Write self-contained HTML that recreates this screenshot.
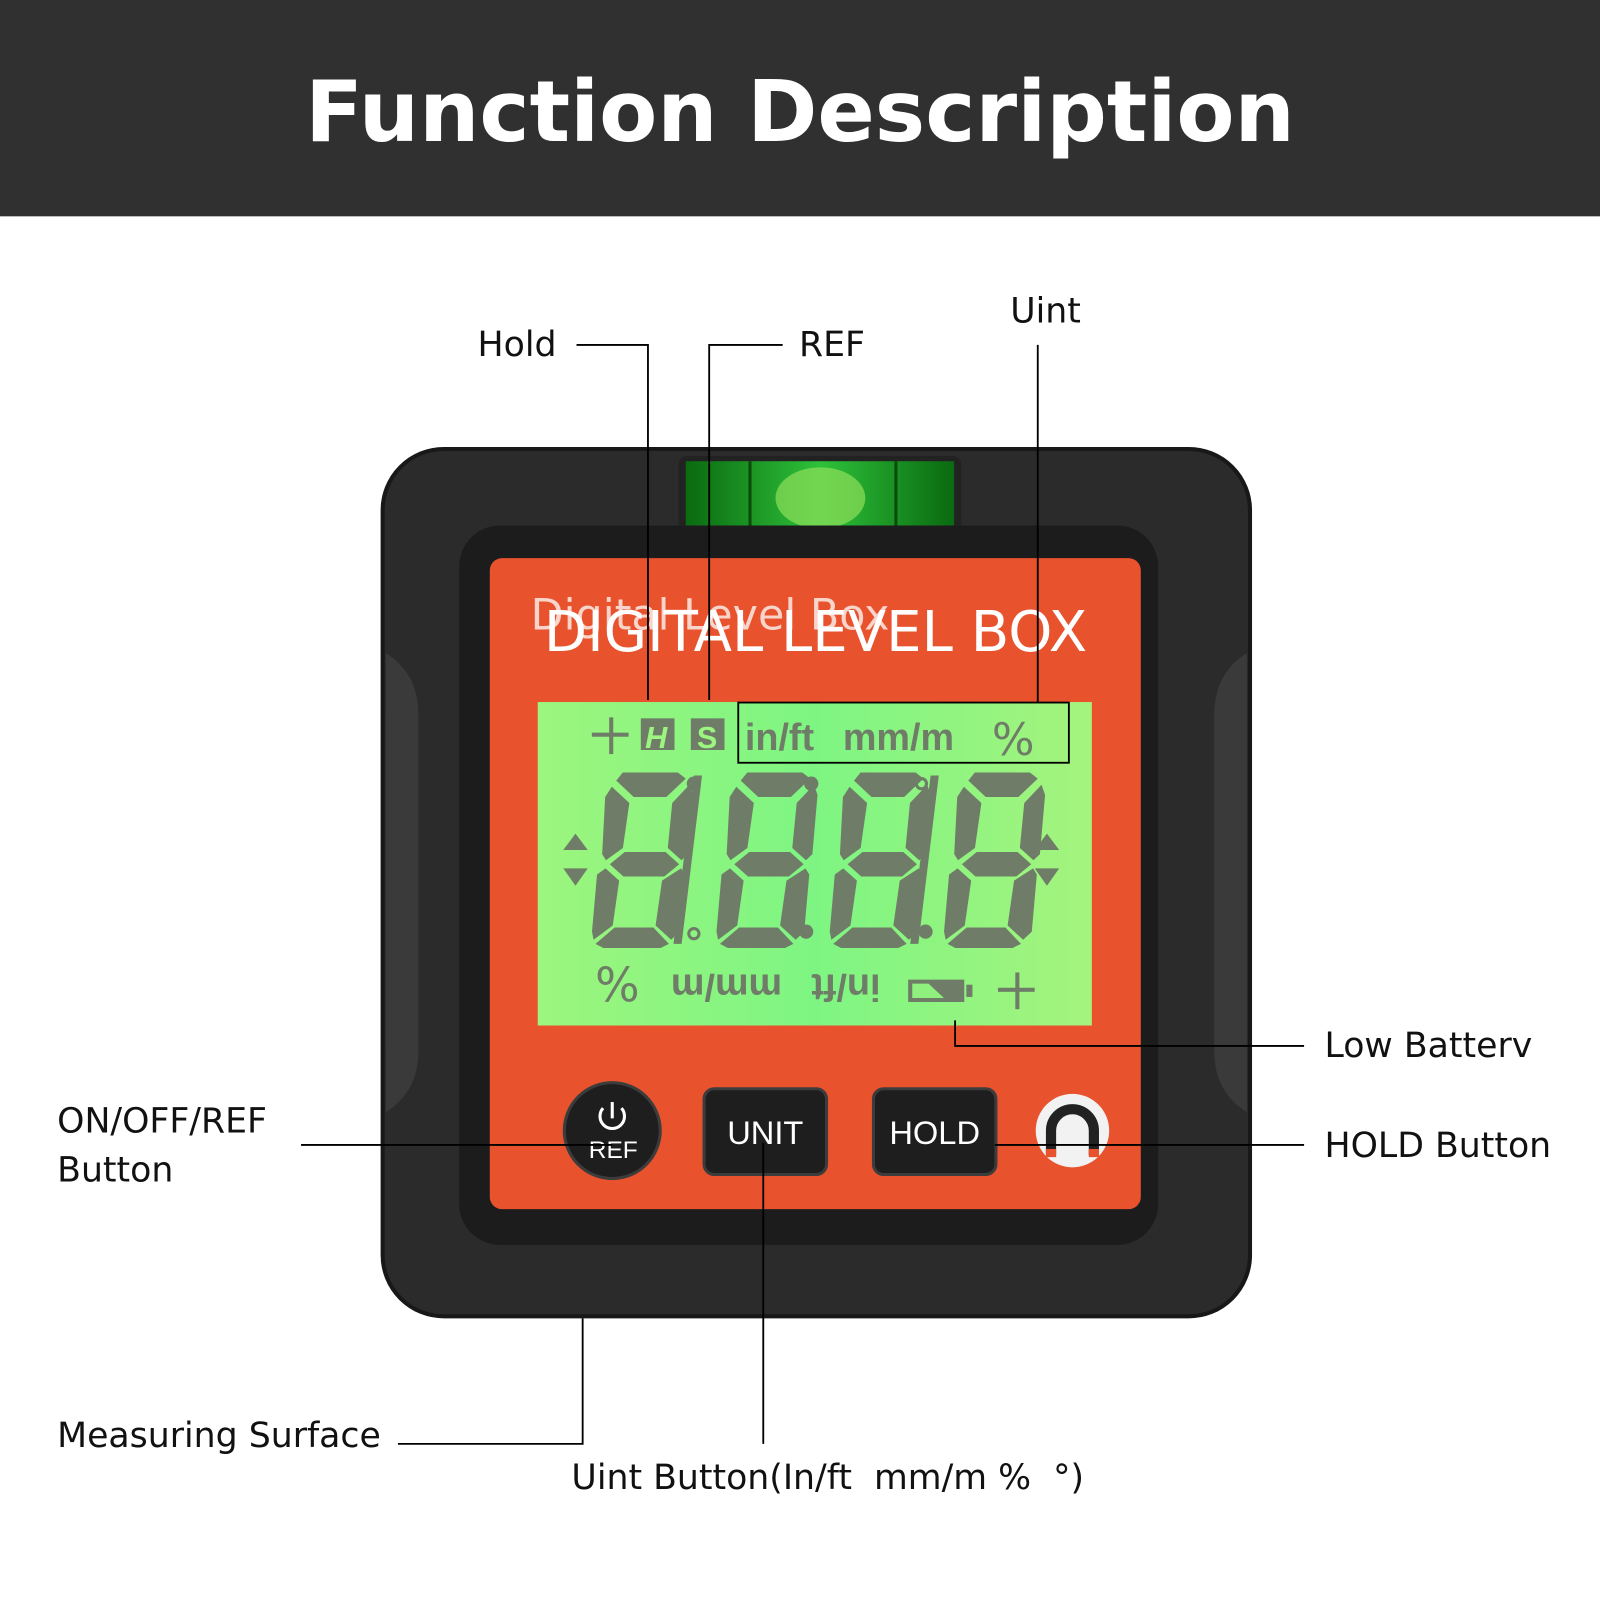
<!DOCTYPE html>
<html><head><meta charset="utf-8"><style>
body{margin:0;width:1600px;height:1600px;overflow:hidden;background:#fff;font-family:"Liberation Sans","DejaVu Sans",sans-serif}
#c{position:absolute;left:0;top:0;width:1568px;height:1568px;transform:scale(1.020408);transform-origin:0 0}
.t{position:absolute;font-size:34px;color:#111;font-family:"DejaVu Sans","Liberation Sans",sans-serif;white-space:nowrap}
</style></head><body><div id="c">
<div style="position:absolute;left:0;top:0;width:1568px;height:212px;background:#303030"></div>
<div style="position:absolute;left:0;top:61px;width:1568px;text-align:center;color:#fff;font-size:83px;font-weight:bold;font-family:'DejaVu Sans','Liberation Sans',sans-serif">Function Description</div>
<svg width="1568" height="1568" style="position:absolute;left:0;top:0">
<defs>
<linearGradient id="vg" x1="0" x2="1"><stop offset="0" stop-color="#0a6a10"/><stop offset="0.5" stop-color="#2ec13a"/><stop offset="1" stop-color="#0a6a10"/></linearGradient>
<linearGradient id="lcd" x1="0" x2="1"><stop offset="0" stop-color="#9cf57e"/><stop offset="0.5" stop-color="#7ef582"/><stop offset="1" stop-color="#a4f47e"/></linearGradient>
<g id="d" fill="#6f7d68">
<polygon points="16,0 70,0 78,6 60,24 28,24 10,8"/>
<polygon points="6,14 24,30 20,74 4,86 0,80 0,24"/>
<polygon points="82,12 86,22 84,80 78,86 64,74 66,30"/>
<polygon points="8,90 22,78 62,78 76,90 62,102 22,102"/>
<polygon points="4,94 18,106 14,150 -4,164 -6,156 -4,100"/>
<polygon points="78,94 82,100 80,156 72,164 56,150 60,106"/>
<polygon points="-2,168 16,152 54,152 70,168 62,172 6,172"/>
</g>
</defs>
<rect x="375" y="440" width="850" height="850" rx="60" fill="#2b2b2b" stroke="#181818" stroke-width="4"/>
<path d="M378 640 Q410 660 410 700 V1030 Q410 1070 378 1090 Z" fill="#3a3a3a"/>
<path d="M1222 640 Q1190 660 1190 700 V1030 Q1190 1070 1222 1090 Z" fill="#3a3a3a"/>
<rect x="665" y="447" width="277" height="82" rx="8" fill="#222"/>
<rect x="672" y="452" width="263" height="72" fill="url(#vg)"/>
<line x1="735" y1="452" x2="735" y2="524" stroke="#0a4a0a" stroke-width="3"/>
<line x1="878" y1="452" x2="878" y2="524" stroke="#0a4a0a" stroke-width="3"/>
<ellipse cx="804" cy="488" rx="44" ry="30" fill="#8ee05a" opacity="0.7"/>
<rect x="450" y="515" width="685" height="705" rx="40" fill="#1c1c1c"/>
<rect x="480" y="547" width="638" height="638" rx="12" fill="#e8532e"/>
<rect x="527" y="688" width="543" height="317" fill="url(#lcd)"/>
<g transform="skewX(-3) translate(44 0)">
<use href="#d" x="590" y="757"/><use href="#d" x="712" y="757"/><use href="#d" x="823" y="757"/><use href="#d" x="935" y="757"/>
</g>
<g fill="#6f7d68">
<polygon points="680,760 688,760 668,925 660,925"/>
<polygon points="912,760 920,760 900,925 892,925"/>
<circle cx="680" cy="768" r="7"/><circle cx="795" cy="768" r="7"/>
<circle cx="790" cy="913" r="7"/><circle cx="907" cy="913" r="7"/>
<circle cx="680" cy="915" r="5" fill="none" stroke="#6f7d68" stroke-width="3"/>
<circle cx="903" cy="768" r="5" fill="none" stroke="#6f7d68" stroke-width="3"/>
<polygon points="564,817 576,833 552,833"/><polygon points="552,851 576,851 564,868"/>
<polygon points="1026,817 1038,833 1014,833"/><polygon points="1014,851 1038,851 1026,868"/>
<rect x="580" y="718" width="36" height="4"/><rect x="597" y="703" width="4" height="36"/>
<rect x="978" y="968" width="36" height="4"/><rect x="995" y="953" width="4" height="36"/>
<rect x="628" y="704" width="33" height="31"/><rect x="677" y="704" width="33" height="31"/>
<polygon points="890,960 945,960 945,982 890,982"/>
<rect x="947" y="965" width="6" height="12"/>
</g>
<polygon points="894,964 910,964 925,978 894,978" fill="#8ff07e"/>
<text x="643" y="733" font-family="Liberation Sans" font-weight="bold" font-style="italic" font-size="30" fill="#9cf57e" text-anchor="middle">H</text>
<text x="693" y="733" font-family="Liberation Sans" font-weight="bold" font-size="30" fill="#9cf57e" text-anchor="middle">S</text>
<text x="730" y="735" font-family="Liberation Sans" font-weight="bold" font-size="37" fill="#6f7d68">in/ft</text>
<text x="826" y="735" font-family="Liberation Sans" font-weight="bold" font-size="37" fill="#6f7d68">mm/m</text>
<text x="972" y="740" font-family="DejaVu Sans" font-size="44" fill="#6f7d68">%</text>
<text transform="rotate(180 712 968)" x="712" y="981" font-family="Liberation Sans" font-weight="bold" font-size="37" fill="#6f7d68" text-anchor="middle">mm/m</text>
<text transform="rotate(180 829 968)" x="829" y="981" font-family="Liberation Sans" font-weight="bold" font-size="37" fill="#6f7d68" text-anchor="middle">in/ft</text>
<text transform="rotate(180 605 963)" x="605" y="979" font-family="DejaVu Sans" font-size="46" fill="#6f7d68" text-anchor="middle">%</text>
<text x="533" y="638" font-family="DejaVu Sans" font-size="55" fill="#fff">DIGITAL LEVEL BOX</text>
<text x="520" y="617" font-family="DejaVu Sans" font-size="42" fill="#fff" opacity="0.75">Digital Level Box</text>
<circle cx="600" cy="1108" r="47" fill="#1e1e1e" stroke="#3c3c3c" stroke-width="3"/>
<path d="M591 1086 A12 12 0 1 0 609 1086" fill="none" stroke="#fff" stroke-width="3"/>
<line x1="600" y1="1080" x2="600" y2="1096" stroke="#fff" stroke-width="3"/>
<text x="601" y="1135" font-family="Liberation Sans" font-size="24" fill="#fff" text-anchor="middle">REF</text>
<rect x="690" y="1067" width="120" height="84" rx="10" fill="#1e1e1e" stroke="#3c3c3c" stroke-width="3"/>
<text x="750" y="1121" font-family="Liberation Sans" font-size="32" fill="#fff" text-anchor="middle">UNIT</text>
<rect x="856" y="1067" width="120" height="84" rx="10" fill="#1e1e1e" stroke="#3c3c3c" stroke-width="3"/>
<text x="916" y="1121" font-family="Liberation Sans" font-size="32" fill="#fff" text-anchor="middle">HOLD</text>
<circle cx="1051" cy="1108" r="36" fill="#f2f2f2"/>
<path d="M1030 1132 V1108 A21 21 0 0 1 1072 1108 V1132" fill="none" stroke="#222" stroke-width="10"/>
<rect x="1025" y="1126" width="10" height="8" fill="#e8532e"/><rect x="1067" y="1126" width="10" height="8" fill="#e8532e"/>
<g stroke="#000" stroke-width="1.8" fill="none">
<polyline points="565,338 635,338 635,686"/>
<polyline points="767,338 695,338 695,686"/>
<line x1="1017" y1="338" x2="1017" y2="688"/>
<rect x="723.5" y="688.5" width="324" height="59"/>
<polyline points="936,1000 936,1025 1278,1025"/>
<line x1="975" y1="1122" x2="1278" y2="1122"/>
<line x1="295" y1="1122" x2="600" y2="1122"/>
<line x1="748" y1="1120" x2="748" y2="1415"/>
<polyline points="390,1415 571,1415 571,1292"/>
</g>
</svg>
<div class="t" style="left:468px;top:318px">Hold</div>
<div class="t" style="left:783px;top:318px">REF</div>
<div class="t" style="left:990px;top:285px">Uint</div>
<div class="t" style="left:1298px;top:1005px">Low Batterv</div>
<div class="t" style="left:1298px;top:1103px">HOLD Button</div>
<div class="t" style="left:56px;top:1075px;line-height:48px">ON/OFF/REF<br>Button</div>
<div class="t" style="left:56px;top:1387px">Measuring Surface</div>
<div class="t" style="left:560px;top:1428px;white-space:pre">Uint Button(In/ft  mm/m %  °)</div>
</div></body></html>
